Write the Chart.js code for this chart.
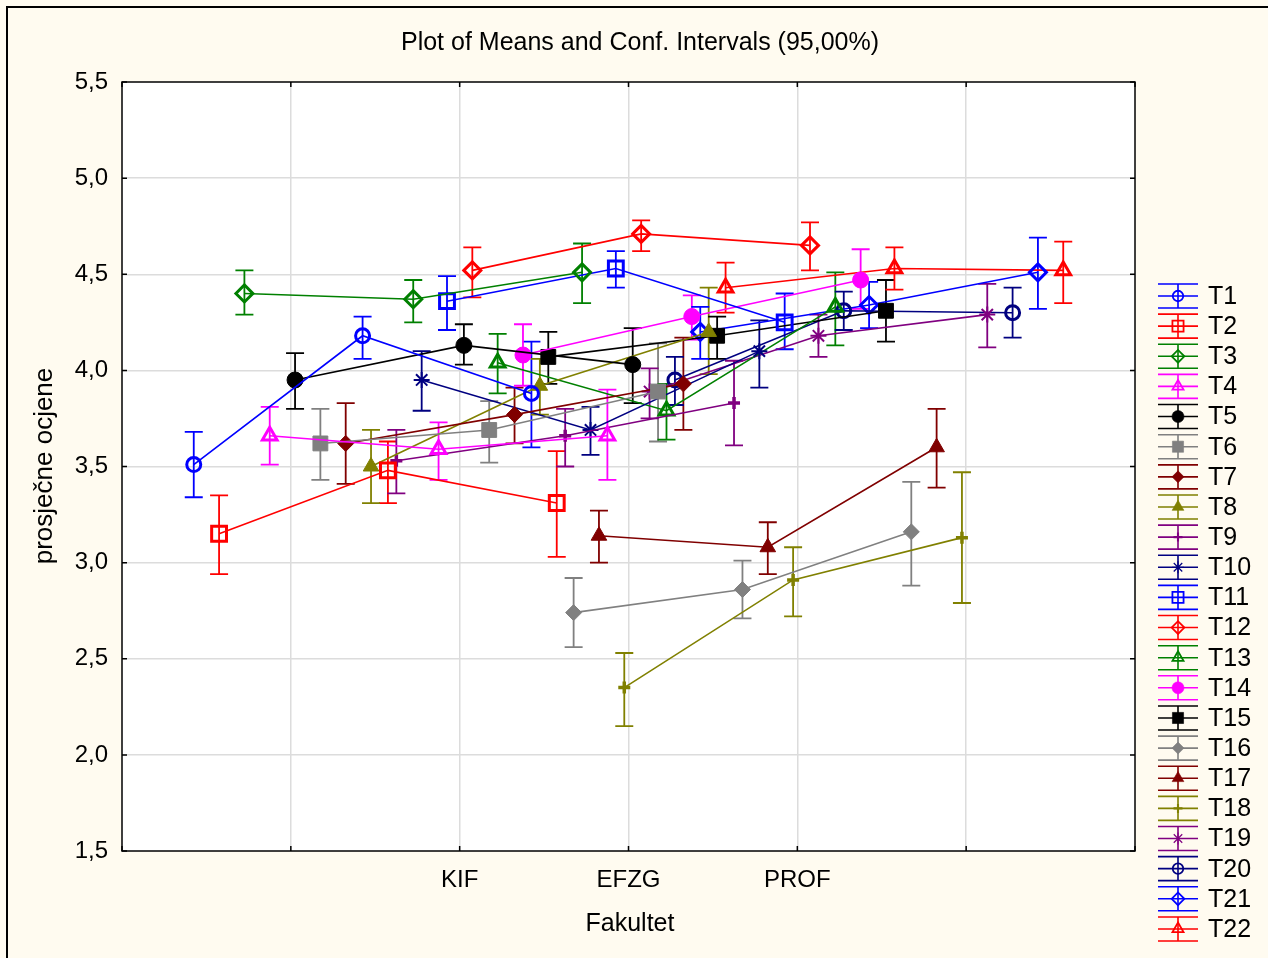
<!DOCTYPE html>
<html>
<head>
<meta charset="utf-8">
<script src="https://cdn.jsdelivr.net/npm/chart.js@4.4.0/dist/chart.umd.min.js"></script>
<style>
  body { margin: 0; background: #fffbf0; }
  #wrap { width: 1268px; height: 958px; }
</style>
</head>
<body>
<div id="wrap"><canvas id="myChart"></canvas></div>
<script>
// categories of the x axis and the 22 variables
const categories = ['KIF', 'EFZG', 'PROF'];
const seriesNames = ['T1', 'T2', 'T3', 'T4', 'T5', 'T6', 'T7', 'T8', 'T9', 'T10', 'T11',
                     'T12', 'T13', 'T14', 'T15', 'T16', 'T17', 'T18', 'T19', 'T20', 'T21', 'T22'];
const xTickLabels = ['', '', 'KIF', 'EFZG', 'PROF', '', ''];

// means and 95% confidence limits, one value per variable T1..T22
const kifMean  = [3.51, 3.15, 4.40, 3.66, 3.95, 3.62, 3.62, 3.50, 3.53, 3.95, 4.36, 4.52, 4.04, 4.08, 4.07, 2.74, 3.14, 2.35, 3.89, 3.95, 4.20, 4.43];
const kifLow   = [3.34, 2.94, 4.29, 3.51, 3.80, 3.43, 3.41, 3.31, 3.36, 3.79, 4.21, 4.38, 3.88, 3.92, 3.93, 2.56, 3.00, 2.15, 3.75, 3.82, 4.06, 4.30];
const kifHigh  = [3.68, 3.35, 4.52, 3.81, 4.09, 3.80, 3.83, 3.69, 3.69, 4.10, 4.49, 4.64, 4.19, 4.24, 4.20, 2.92, 3.27, 2.53, 4.01, 4.07, 4.33, 4.56];

const efzgMean = [4.18, 3.48, 4.37, 3.59, 4.13, 3.69, 3.77, 3.92, 3.66, 3.69, 4.53, 4.71, 3.79, 4.28, 4.18, 2.86, 3.08, 2.91, 4.18, 4.31, 4.34, 4.53];
const efzgLow  = [4.06, 3.31, 4.25, 3.43, 4.03, 3.52, 3.62, 3.77, 3.50, 3.56, 4.43, 4.62, 3.64, 4.16, 4.06, 2.71, 2.94, 2.72, 4.07, 4.21, 4.22, 4.42];
const efzgHigh = [4.28, 3.63, 4.47, 3.73, 4.24, 3.84, 3.91, 4.06, 3.80, 3.81, 4.62, 4.78, 3.93, 4.39, 4.28, 3.01, 3.21, 3.08, 4.29, 4.41, 4.46, 4.64];

const profMean = [3.88, 3.31, 4.51, 3.66, 4.03, 3.89, 3.93, 4.20, 3.83, 4.10, 4.25, 4.65, 4.33, 4.47, 4.31, 3.16, 3.60, 3.13, 4.29, 4.30, 4.51, 4.52];
const profLow  = [3.60, 3.03, 4.35, 3.43, 3.83, 3.63, 3.69, 3.98, 3.61, 3.91, 4.11, 4.52, 4.13, 4.32, 4.15, 2.88, 3.39, 2.79, 4.12, 4.17, 4.32, 4.35];
const profHigh = [4.15, 3.58, 4.66, 3.90, 4.22, 4.14, 4.17, 4.43, 4.05, 4.26, 4.40, 4.77, 4.51, 4.63, 4.47, 3.42, 3.80, 3.47, 4.45, 4.43, 4.69, 4.67];

const means = [kifMean, efzgMean, profMean];
const lows = [kifLow, efzgLow, profLow];
const highs = [kifHigh, efzgHigh, profHigh];

const seriesColors = ['#0000ff', '#ff0000', '#008000', '#ff00ff', '#000000', '#808080', '#800000', '#808000', '#800080', '#000080', '#0000ff',
                      '#ff0000', '#008000', '#ff00ff', '#000000', '#808080', '#800000', '#808000', '#800080', '#000080', '#0000ff', '#ff0000'];
const markerStyles = ['circle', 'rect', 'rectRot', 'triangle', 'circle', 'rect', 'rectRot', 'triangle', 'cross', 'star', 'rect',
                      'rectRot', 'triangle', 'circle', 'rect', 'rectRot', 'triangle', 'cross', 'star', 'circle', 'rectRot', 'triangle'];
const markerFilled = [false, false, false, false, true, true, true, true, true, true, false,
                      false, false, true, true, true, true, true, true, false, false, false];

const FONT = "'Liberation Sans', Arial, sans-serif";
const gridColor = '#dcdcdc';

function markerSize(style, filled, legend) {
    const s = {
        circle: filled ? 8 : 7,
        rect: 10.5,
        rectRot: filled ? 8 : 8.5,
        triangle: filled ? 9 : 8.5,
        cross: 6,
        star: 8
    }[style];
    return legend ? s * 0.75 : s;
}
function markerBorder(style, filled) {
    if (style === 'cross') return 3.5;
    if (style === 'star') return 2;
    return filled ? 1 : 3;
}

const datasets = seriesNames.map((name, i) => {
    const style = markerStyles[i];
    const filled = markerFilled[i];
    return {
        label: name,
        data: categories.map((c, j) => ({ x: j + 2 + (i - 10.5) * 0.15, y: means[j][i] })),
        borderColor: seriesColors[i],
        borderWidth: 1.6,
        tension: 0,
        fill: false,
        pointStyle: style,
        pointRadius: markerSize(style, filled, false),
        pointBorderWidth: markerBorder(style, filled),
        pointBorderColor: seriesColors[i],
        pointBackgroundColor: filled ? seriesColors[i] : 'rgba(0,0,0,0)'
    };
});

const decorations = {
    id: 'decorations',
    beforeDraw(chart) {
        const { ctx, chartArea: a } = chart;
        ctx.save();
        ctx.fillStyle = '#fffbf0';
        ctx.fillRect(0, 0, chart.width, chart.height);
        ctx.fillStyle = '#ffffff';
        ctx.fillRect(a.left, a.top, a.right - a.left, a.bottom - a.top);
        ctx.restore();
    },
    beforeDatasetsDraw(chart) {
        // confidence interval whiskers
        const { ctx } = chart;
        const xs = chart.scales.x, ys = chart.scales.y;
        ctx.save();
        ctx.lineWidth = 1.8;
        seriesNames.forEach((name, i) => {
            ctx.strokeStyle = seriesColors[i];
            categories.forEach((c, j) => {
                const x = xs.getPixelForValue(j + 2 + (i - 10.5) * 0.15);
                const y1 = ys.getPixelForValue(lows[j][i]);
                const y2 = ys.getPixelForValue(highs[j][i]);
                ctx.beginPath();
                ctx.moveTo(x, y1); ctx.lineTo(x, y2);
                ctx.moveTo(x - 9, y1); ctx.lineTo(x + 9, y1);
                ctx.moveTo(x - 9, y2); ctx.lineTo(x + 9, y2);
                ctx.stroke();
            });
        });
        ctx.restore();
    },
    afterDraw(chart) {
        const { ctx, chartArea: a } = chart;
        const xs = chart.scales.x, ys = chart.scales.y;
        ctx.save();
        // frame and inward ticks
        ctx.strokeStyle = '#000';
        ctx.lineWidth = 1.5;
        ctx.strokeRect(a.left, a.top, a.right - a.left, a.bottom - a.top);
        ctx.beginPath();
        ys.ticks.forEach(t => {
            const y = ys.getPixelForValue(t.value);
            ctx.moveTo(a.left, y); ctx.lineTo(a.left + 5, y);
            ctx.moveTo(a.right, y); ctx.lineTo(a.right - 5, y);
        });
        xs.ticks.forEach(t => {
            const x = xs.getPixelForValue(t.value);
            ctx.moveTo(x, a.bottom); ctx.lineTo(x, a.bottom - 5);
            ctx.moveTo(x, a.top); ctx.lineTo(x, a.top + 5);
        });
        ctx.stroke();
        // outer border
        ctx.lineWidth = 2;
        ctx.strokeRect(7, 7, chart.width + 10, chart.height + 10);

        // texts
        ctx.fillStyle = '#000';
        ctx.textAlign = 'center';
        ctx.textBaseline = 'middle';
        ctx.font = '25px ' + FONT;
        ctx.fillText('Plot of Means and Conf. Intervals (95,00%)', 640, 43);
        ctx.fillText('Fakultet', 630, 924);
        ctx.save();
        ctx.translate(45, 466);
        ctx.rotate(-Math.PI / 2);
        ctx.font = '26px ' + FONT;
        ctx.fillText('prosječne ocjene', 0, 0);
        ctx.restore();

        // legend
        seriesNames.forEach((name, i) => {
            const y = 296 + i * 30.14;
            const col = seriesColors[i];
            const style = markerStyles[i];
            const filled = markerFilled[i];
            ctx.strokeStyle = col;
            ctx.lineWidth = 1.6;
            ctx.beginPath();
            ctx.moveTo(1158, y - 12); ctx.lineTo(1198, y - 12);
            ctx.moveTo(1158, y); ctx.lineTo(1198, y);
            ctx.moveTo(1158, y + 12); ctx.lineTo(1198, y + 12);
            ctx.moveTo(1178, y - 12); ctx.lineTo(1178, y + 12);
            ctx.stroke();
            ctx.fillStyle = filled ? col : 'rgba(0,0,0,0)';
            ctx.lineWidth = markerBorder(style, filled) * 0.6;
            Chart.helpers.drawPoint(ctx, {
                pointStyle: style,
                rotation: 0,
                radius: markerSize(style, filled, true),
                borderWidth: ctx.lineWidth
            }, 1178, y);
            ctx.fillStyle = '#000';
            ctx.textAlign = 'left';
            ctx.font = '25px ' + FONT;
            ctx.fillText(name, 1208, y + 1);
        });
        ctx.restore();
    }
};

const ctx = document.getElementById('myChart').getContext('2d');
new Chart(ctx, {
    type: 'line',
    data: { datasets: datasets },
    options: {
        responsive: true,
        maintainAspectRatio: false,
        animation: false,
        layout: { padding: { left: 0, top: 82, right: 133, bottom: 0 } },
        plugins: {
            legend: { display: false },
            title: { display: false },
            tooltip: { enabled: false }
        },
        scales: {
            x: {
                type: 'linear',
                min: 0,
                max: 6,
                afterBuildTicks: scale => {
                    scale.ticks = xTickLabels.map((l, k) => ({ value: k }));
                },
                afterFit: scale => { scale.height = 107; },
                ticks: {
                    callback: v => xTickLabels[v],
                    autoSkip: false,
                    maxRotation: 0,
                    padding: 15,
                    color: '#000',
                    font: { family: FONT, size: 24 }
                },
                grid: {
                    color: c => (c.tick && (c.tick.value === 0 || c.tick.value === 6)) ? 'rgba(0,0,0,0)' : gridColor,
                    lineWidth: 1.5,
                    drawTicks: false
                },
                border: { display: false }
            },
            y: {
                min: 1.5,
                max: 5.5,
                afterFit: scale => { scale.width = 122; },
                ticks: {
                    stepSize: 0.5,
                    callback: v => v.toFixed(1).replace('.', ','),
                    padding: 14,
                    color: '#000',
                    font: { family: FONT, size: 24 }
                },
                grid: {
                    color: c => (c.tick && (c.tick.value === 1.5 || c.tick.value === 5.5)) ? 'rgba(0,0,0,0)' : gridColor,
                    lineWidth: 1.5,
                    drawTicks: false
                },
                border: { display: false }
            }
        }
    },
    plugins: [decorations]
});
</script>
</body>
</html>
